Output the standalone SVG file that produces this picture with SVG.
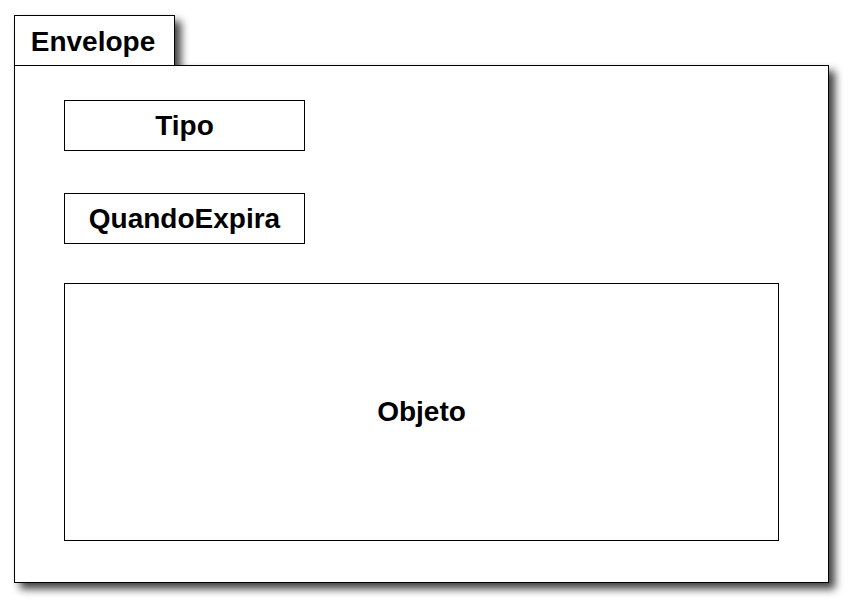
<svg xmlns="http://www.w3.org/2000/svg" width="852" height="614" viewBox="0 0 852 614">
<defs>
<filter id="sh" x="-10%" y="-10%" width="130%" height="130%">
<feGaussianBlur in="SourceAlpha" stdDeviation="4.5"/>
<feOffset dx="6" dy="6" result="b"/>
<feComponentTransfer><feFuncA type="linear" slope="0.75"/></feComponentTransfer>
<feMerge><feMergeNode/><feMergeNode in="SourceGraphic"/></feMerge>
</filter>
</defs>
<style>
.box{fill:#fff;stroke:#000;stroke-width:1}
.lbl{font-family:"Liberation Sans",Arial,sans-serif;font-weight:bold;font-size:28px;fill:#000;text-anchor:middle}
</style>
<rect width="852" height="614" fill="#fff"/>
<g id="envelope">
<g filter="url(#sh)">
<rect class="box" x="14.5" y="15.5" width="160" height="50"/>
<rect class="box" x="14.5" y="65.5" width="814" height="517"/>
</g>
<text class="lbl" x="93" y="51">Envelope</text>
</g>
<g id="tipo">
<rect class="box" x="64.5" y="100.5" width="240" height="50"/>
<text class="lbl" x="184.5" y="135">Tipo</text>
</g>
<g id="quandoexpira">
<rect class="box" x="64.5" y="193.5" width="240" height="50"/>
<text class="lbl" x="184.5" y="228">QuandoExpira</text>
</g>
<g id="objeto">
<rect class="box" x="64.5" y="283.5" width="714" height="257"/>
<text class="lbl" x="421.5" y="421">Objeto</text>
</g>
<g id="connectors"/>
</svg>
